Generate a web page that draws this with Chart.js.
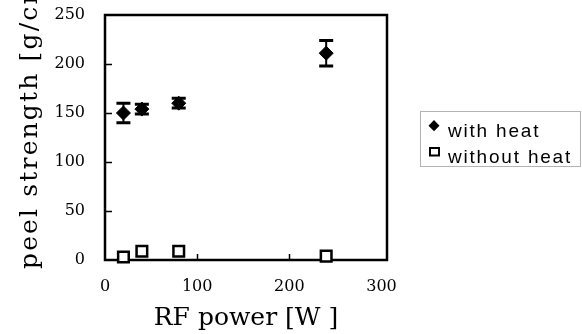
<!DOCTYPE html>
<html><head><meta charset="utf-8">
<script src="https://cdn.jsdelivr.net/npm/chart.js@4.4.1/dist/chart.umd.min.js"></script>
<style>html,body{margin:0;padding:0;background:#fff}canvas{display:block}</style>
</head><body>
<canvas id="c" width="582" height="334"></canvas>
<script>
const rfPower = [20, 40, 80, 240];
const withHeat = [150, 154, 160, 211];
const withHeatErr = [10, 5, 5, 13];
const withoutHeat = [3, 9, 9, 4];
const seriesLabels = ['with heat', 'without heat'];
const xTicks = [0, 100, 200, 300];
const yTicks = [0, 50, 100, 150, 200, 250];
const xTitle = 'RF power [W ]';
const yTitle = 'peel strength [g/cm]';

const toPts = (xs, ys) => xs.map((x, i) => ({x, y: ys[i]}));

const framePlugin = {
  id: 'frame',
  beforeDatasetsDraw(chart) {
    const {ctx, chartArea: a, scales: {x, y}} = chart;
    ctx.save();
    ctx.strokeStyle = '#000';
    ctx.lineWidth = 1.5;
    ctx.beginPath();
    yTicks.slice(1, -1).forEach(v => {
      const py = Math.round(y.getPixelForValue(v)) + 0.5;
      ctx.moveTo(a.left, py); ctx.lineTo(a.left + 7, py);
    });
    xTicks.slice(1, -1).forEach(v => {
      const px = Math.round(x.getPixelForValue(v)) + 0.5;
      ctx.moveTo(px, a.bottom); ctx.lineTo(px, a.bottom - 6);
    });
    ctx.stroke();
    ctx.lineWidth = 2.5;
    ctx.strokeRect(a.left, a.top, a.right - a.left, a.bottom - a.top);
    rfPower.forEach((p, i) => {
      const px = x.getPixelForValue(p);
      const hi = y.getPixelForValue(withHeat[i] + withHeatErr[i]);
      const lo = y.getPixelForValue(withHeat[i] - withHeatErr[i]);
      ctx.beginPath(); ctx.lineWidth = 2;
      ctx.moveTo(px, hi); ctx.lineTo(px, lo); ctx.stroke();
      ctx.beginPath(); ctx.lineWidth = 3;
      ctx.moveTo(px - 7, hi); ctx.lineTo(px + 7, hi);
      ctx.moveTo(px - 7, lo); ctx.lineTo(px + 7, lo);
      ctx.stroke();
    });
    ctx.restore();
  },
  afterDraw(chart) {
    const {ctx} = chart;
    ctx.save();
    ctx.fillStyle = '#000';
    ctx.font = '25px "DejaVu Serif", serif';
    ctx.textBaseline = 'alphabetic';
    ctx.textAlign = 'left';
    const w0 = ctx.measureText(yTitle).width;
    if ('letterSpacing' in ctx) ctx.letterSpacing = Math.max(0, (300 - w0) / (yTitle.length - 1)).toFixed(2) + 'px';
    ctx.translate(37, 269);
    ctx.rotate(-Math.PI / 2);
    ctx.fillText(yTitle, 0, 0);
    ctx.restore();

    ctx.save();
    ctx.setLineDash([1, 1]);
    ctx.strokeStyle = '#666';
    ctx.lineWidth = 1;
    ctx.strokeRect(420.5, 111.5, 160, 55);
    ctx.setLineDash([]);
    ctx.fillStyle = '#000';
    ctx.beginPath();
    ctx.moveTo(434, 120); ctx.lineTo(439.5, 125.7); ctx.lineTo(434, 131.2); ctx.lineTo(428.5, 125.7);
    ctx.closePath(); ctx.fill();
    ctx.strokeStyle = '#000';
    ctx.lineWidth = 2;
    ctx.strokeRect(430, 148, 9, 7.5);
    ctx.font = '19px "Liberation Sans", Arial, sans-serif';
    if ('letterSpacing' in ctx) ctx.letterSpacing = '1.8px';
    ctx.textBaseline = 'alphabetic';
    ctx.textAlign = 'left';
    ctx.fillText(chart.data.datasets[0].label, 448, 137);
    ctx.fillText(chart.data.datasets[1].label, 448, 162.5);
    ctx.restore();
  }
};

new Chart(document.getElementById('c'), {
  type: 'scatter',
  data: {
    datasets: [
      {
        label: seriesLabels[0],
        data: toPts(rfPower, withHeat),
        pointStyle: 'rectRot',
        pointRadius: 7,
        backgroundColor: '#000',
        borderColor: '#000',
        borderWidth: 1,
        clip: false
      },
      {
        label: seriesLabels[1],
        data: toPts(rfPower, withoutHeat),
        pointStyle: 'rect',
        pointRadius: 7.5,
        backgroundColor: '#fff',
        borderColor: '#000',
        borderWidth: 2.5,
        clip: false
      }
    ]
  },
  options: {
    responsive: false,
    animation: false,
    events: [],
    layout: {padding: {left: 0, right: 195, top: 15, bottom: 0}},
    plugins: {legend: {display: false}, tooltip: {enabled: false}},
    scales: {
      x: {
        type: 'linear', min: 0, max: 306,
        afterBuildTicks: s => { s.ticks = xTicks.map(v => ({value: v})); },
        afterFit: s => { s.height = 74; s.paddingLeft = 0; s.paddingRight = 0; },
        grid: {display: false, drawTicks: false},
        border: {display: false},
        ticks: {color: '#000', padding: 17, font: {family: '"DejaVu Serif", serif', size: 16}},
        title: {display: true, text: xTitle, color: '#000', padding: {top: 0, bottom: 1},
          font: {family: '"DejaVu Serif", serif', size: 25}}
      },
      y: {
        type: 'linear', min: 0, max: 250,
        afterBuildTicks: s => { s.ticks = yTicks.map(v => ({value: v})); },
        afterFit: s => { s.width = 105; s.paddingTop = 0; s.paddingBottom = 0; },
        grid: {display: false, drawTicks: false},
        border: {display: false},
        ticks: {color: '#000', padding: 20, font: {family: '"DejaVu Serif", serif', size: 16}},
        title: {display: false}
      }
    }
  },
  plugins: [framePlugin]
});
</script>
</body></html>
